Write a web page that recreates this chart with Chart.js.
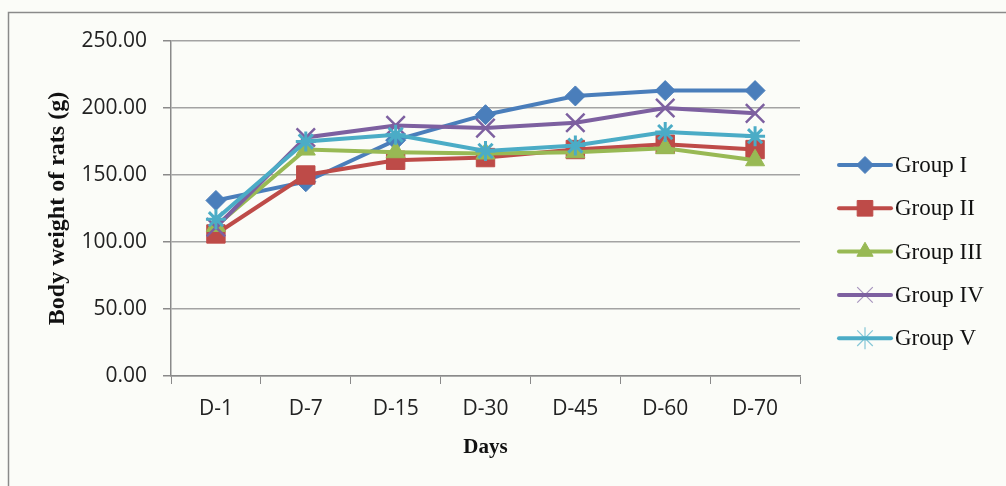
<!DOCTYPE html>
<html>
<head>
<meta charset="utf-8">
<script src="https://cdn.jsdelivr.net/npm/chart.js@4/dist/chart.umd.min.js"></script>
<style>
  html, body { margin: 0; padding: 0; background: #fbfcf8; }
  canvas { display: block; }
</style>
</head>
<body>
<canvas id="c" width="1006" height="486"></canvas>
<script>
// Body weight of rats per group over the study period
const days = ['D-1', 'D-7', 'D-15', 'D-30', 'D-45', 'D-60', 'D-70'];
const groupI   = [131, 145, 176, 195, 209, 213, 213];
const groupII  = [106, 150, 161, 163, 169, 173, 169];
const groupIII = [112, 169, 167, 166, 167, 170, 161];
const groupIV  = [111, 178, 187, 185, 189, 200, 196];
const groupV   = [117, 175, 180, 168, 172, 182, 179];
const groupNames = ['Group I', 'Group II', 'Group III', 'Group IV', 'Group V'];
const yTicks = [0, 50, 100, 150, 200, 250];

const seriesStyle = [
  { color: '#4a7ebb', style: 'rectRot',  radius: 10, bw: 1 },
  { color: '#be4b48', style: 'rect',     radius: 13, bw: 1 },
  { color: '#98b954', style: 'triangle', radius: 11, bw: 1 },
  { color: '#7d60a0', style: 'crossRot', radius: 13, bw: 2.5 },
  { color: '#4bacc6', style: 'star',     radius: 10, bw: 3 }
];
const seriesData = [groupI, groupII, groupIII, groupIV, groupV];

const datasets = seriesData.map((d, i) => ({
  label: groupNames[i],
  data: d,
  borderColor: seriesStyle[i].color,
  backgroundColor: seriesStyle[i].color,
  borderWidth: 4,
  pointStyle: seriesStyle[i].style,
  pointRadius: seriesStyle[i].radius,
  pointBorderWidth: seriesStyle[i].bw,
  pointBackgroundColor: seriesStyle[i].color,
  pointBorderColor: seriesStyle[i].color,
  tension: 0,
  order: seriesData.length - i
}));

// outer frame around the figure
const framePlugin = {
  id: 'frame',
  beforeDraw(chart) {
    const ctx = chart.ctx;
    ctx.save();
    ctx.fillStyle = '#fbfcf8';
    ctx.fillRect(0, 0, chart.width, chart.height);
    ctx.strokeStyle = '#8a8a8a';
    ctx.lineWidth = 1.5;
    ctx.beginPath();
    ctx.moveTo(8.5, chart.height + 2);
    ctx.lineTo(8.5, 12.5);
    ctx.lineTo(chart.width + 2, 12.5);
    ctx.stroke();
    ctx.restore();
  }
};

// legend: line sample with marker, then the group name
const sideLegend = {
  id: 'sideLegend',
  afterDraw(chart) {
    const ctx = chart.ctx;
    const x0 = 839, x1 = 891, top = 165, gap = 43.3;
    ctx.save();
    chart.data.datasets.forEach((ds, i) => {
      const y = top + i * gap;
      const st = seriesStyle[i];
      ctx.strokeStyle = st.color;
      ctx.lineWidth = 4;
      ctx.lineCap = 'round';
      ctx.beginPath();
      ctx.moveTo(x0, y);
      ctx.lineTo(x1, y);
      ctx.stroke();
      ctx.lineCap = 'butt';
      ctx.fillStyle = st.color;
      ctx.strokeStyle = (i >= 3) ? st.color + 'aa' : st.color;
      ctx.lineWidth = (i >= 3) ? 1.2 : 1;
      Chart.helpers.drawPoint(ctx, {
        pointStyle: st.style,
        radius: i >= 3 ? 11 : st.radius * 0.85,
        rotation: 0,
        borderWidth: ctx.lineWidth
      }, (x0 + x1) / 2, y);
      ctx.fillStyle = '#111';
      ctx.font = '23px "Liberation Serif", serif';
      ctx.textAlign = 'left';
      ctx.textBaseline = 'middle';
      ctx.fillText(ds.label, 895, y + 1);
    });
    ctx.restore();
  }
};

new Chart(document.getElementById('c'), {
  type: 'line',
  data: { labels: days, datasets },
  options: {
    responsive: false,
    animation: false,
    devicePixelRatio: 1,
    layout: { padding: { left: 0, top: 41, right: 206, bottom: 0 } },
    plugins: { legend: { display: false }, tooltip: { enabled: false } },
    scales: {
      x: {
        offset: true,
        grid: {
          display: true,
          offset: true,
          drawOnChartArea: false,
          drawTicks: true,
          tickLength: 8,
          color: '#8a8a8a',
          tickColor: '#8a8a8a'
        },
        border: { display: true, color: '#8a8a8a', width: 1.5 },
        ticks: {
          color: '#222',
          padding: 12,
          font: { family: '"Open Sans", sans-serif', size: 21 }
        },
        title: {
          display: true,
          text: 'Days',
          color: '#111',
          padding: { top: 0, bottom: 26 },
          font: { family: '"Liberation Serif", serif', size: 21, weight: 'bold' }
        },
        afterFit(scale) { scale.height = 110; }
      },
      y: {
        min: 0,
        max: 250,
        afterBuildTicks(scale) { scale.ticks = yTicks.map(v => ({ value: v })); },
        grid: {
          color: '#a3a3a3',
          tickColor: '#8a8a8a',
          tickLength: 8,
          lineWidth: 1.5
        },
        border: { display: true, color: '#8a8a8a', width: 1.5 },
        ticks: {
          color: '#222',
          padding: 16,
          font: { family: '"Open Sans", sans-serif', size: 21 },
          callback: v => Number(v).toFixed(2)
        },
        title: {
          display: true,
          text: 'Body weight of rats (g)',
          color: '#111',
          padding: { top: 43, bottom: 0 },
          font: { family: '"Liberation Serif", serif', size: 24, weight: 'bold' }
        },
        afterFit(scale) { scale.width = 171; }
      }
    }
  },
  plugins: [framePlugin, sideLegend]
});
</script>
</body>
</html>
